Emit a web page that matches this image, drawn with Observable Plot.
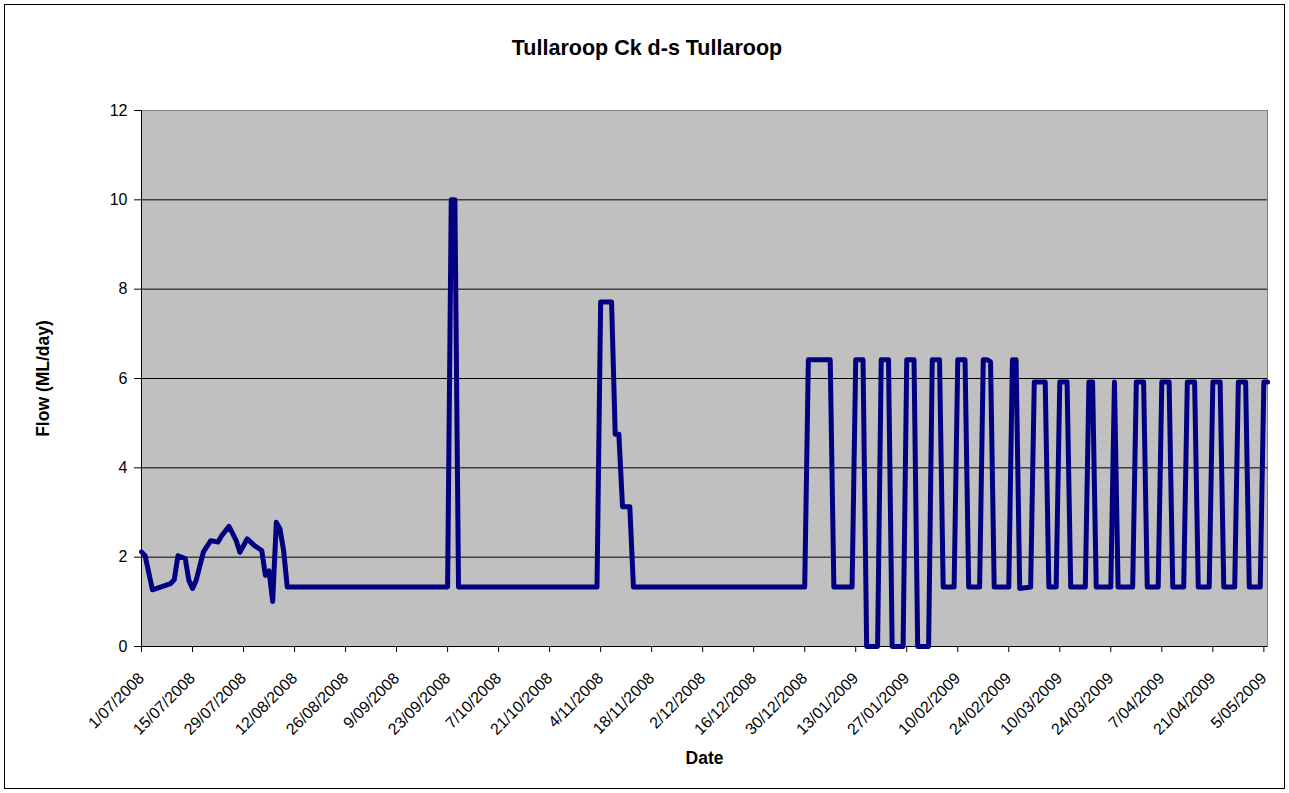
<!DOCTYPE html>
<html>
<head>
<meta charset="utf-8">
<script src="https://cdn.jsdelivr.net/npm/d3@7"></script>
<script src="https://cdn.jsdelivr.net/npm/@observablehq/plot@0.6"></script>
<style>
  html, body { margin: 0; padding: 0; background: #ffffff; }
  #wrap { position: relative; width: 1289px; height: 793px; overflow: hidden; }
  #wrap svg { position: absolute; left: 0; top: 0; max-width: none !important; }
  #border { position: absolute; left: 4px; top: 4px; width: 1281px; height: 785px;
            border: 1.5px solid #000; box-sizing: border-box; pointer-events: none; }
</style>
</head>
<body>
<div id="wrap"><div id="border"></div></div>
<script>
const title = "Tullaroop Ck d-s Tullaroop";
const xLabel = "Date";
const yLabel = "Flow (ML/day)";

const dates = [
  "2008-07-01","2008-07-02","2008-07-04","2008-07-09","2008-07-10","2008-07-11","2008-07-13",
  "2008-07-14","2008-07-15","2008-07-16","2008-07-18","2008-07-20","2008-07-22","2008-07-23",
  "2008-07-25","2008-07-27","2008-07-28","2008-07-30","2008-08-01","2008-08-03","2008-08-04",
  "2008-08-05","2008-08-06","2008-08-07","2008-08-08","2008-08-09","2008-08-10",
  "2008-09-23","2008-09-24","2008-09-25","2008-09-26",
  "2008-11-03","2008-11-04","2008-11-07","2008-11-08","2008-11-09","2008-11-10","2008-11-12","2008-11-13",
  "2008-12-30","2008-12-31","2009-01-06","2009-01-07","2009-01-12","2009-01-13","2009-01-15",
  "2009-01-16","2009-01-19","2009-01-20","2009-01-22","2009-01-23","2009-01-26","2009-01-27",
  "2009-01-29","2009-01-30","2009-02-02","2009-02-03","2009-02-05","2009-02-06","2009-02-09",
  "2009-02-10","2009-02-12","2009-02-13","2009-02-16","2009-02-17","2009-02-18","2009-02-19",
  "2009-02-20","2009-02-24","2009-02-25","2009-02-26","2009-02-27","2009-03-02","2009-03-03",
  "2009-03-06","2009-03-07","2009-03-09","2009-03-10","2009-03-12","2009-03-13","2009-03-17",
  "2009-03-18","2009-03-19","2009-03-20","2009-03-24","2009-03-25","2009-03-26","2009-03-30",
  "2009-03-31","2009-04-02","2009-04-03","2009-04-06","2009-04-07","2009-04-09","2009-04-10",
  "2009-04-13","2009-04-14","2009-04-16","2009-04-17","2009-04-20","2009-04-21","2009-04-23",
  "2009-04-24","2009-04-27","2009-04-28","2009-04-30","2009-05-01","2009-05-04","2009-05-05",
  "2009-05-06"
];
const flows = [
  2.12, 2.03, 1.27, 1.41, 1.50, 2.03, 1.97,
  1.48, 1.30, 1.48, 2.12, 2.37, 2.34, 2.48,
  2.69, 2.37, 2.11, 2.41, 2.26, 2.15, 1.59,
  1.69, 1.01, 2.78, 2.63, 2.15, 1.33,
  1.33, 10.0, 10.0, 1.33,
  1.33, 7.71, 7.71, 4.75, 4.75, 3.13, 3.13, 1.33,
  1.33, 6.42, 6.42, 1.33, 1.33, 6.42, 6.42,
  0, 0, 6.42, 6.42, 0, 0, 6.42,
  6.42, 0, 0, 6.42, 6.42, 1.33, 1.33,
  6.42, 6.42, 1.33, 1.33, 6.42, 6.42, 6.37,
  1.33, 1.33, 6.42, 6.42, 1.30, 1.33, 5.92,
  5.92, 1.33, 1.33, 5.92, 5.92, 1.33, 1.33,
  5.92, 5.92, 1.33, 1.33, 5.92, 1.33, 1.33,
  5.92, 5.92, 1.33, 1.33, 5.92, 5.92, 1.33,
  1.33, 5.92, 5.92, 1.33, 1.33, 5.92, 5.92,
  1.33, 1.33, 5.92, 5.92, 1.33, 1.33, 5.92,
  5.92
];
const tickLabels = [
  "1/07/2008","15/07/2008","29/07/2008","12/08/2008","26/08/2008","9/09/2008","23/09/2008",
  "7/10/2008","21/10/2008","4/11/2008","18/11/2008","2/12/2008","16/12/2008","30/12/2008",
  "13/01/2009","27/01/2009","10/02/2009","24/02/2009","10/03/2009","24/03/2009","7/04/2009",
  "21/04/2009","5/05/2009"
];
const yTicks = [0, 2, 4, 6, 8, 10, 12];
const xDomain = ["2008-07-01", "2009-05-06"];

const toDate = s => new Date(s + "T00:00:00Z");
const parseLabel = s => { const [d, m, y] = s.split("/").map(Number); return new Date(Date.UTC(y, m - 1, d)); };
const data = dates.map((d, i) => ({date: toDate(d), flow: flows[i]}));
const ticks = tickLabels.map(s => ({date: parseLabel(s), label: s}));
const x0 = toDate(xDomain[0]);

const font = "Arial, 'Liberation Sans', Helvetica, sans-serif";

const chart = Plot.plot({
  width: 1289,
  height: 793,
  marginLeft: 141,
  marginRight: 22,
  marginTop: 110,
  marginBottom: 147,
  style: {fontFamily: font, background: "transparent", color: "#000", overflow: "visible"},
  x: {type: "utc", domain: xDomain.map(toDate)},
  y: {domain: [0, 12]},
  marks: [
    Plot.frame({fill: "#c0c0c0", stroke: "#808080"}),
    Plot.ruleY(yTicks.filter(v => v > 0 && v < 12), {stroke: "#000", strokeWidth: 1}),
    Plot.axisY({ticks: yTicks, tickSize: 7, tickPadding: 7, fontSize: 16, label: null}),
    Plot.axisX({ticks: ticks.map(t => t.date), tickSize: 6, tickFormat: () => "", label: null}),
    Plot.text(ticks, {x: "date", text: "label", frameAnchor: "bottom", rotate: -45,
                      textAnchor: "end", lineAnchor: "middle", dy: 29, fontSize: 16}),
    Plot.ruleX([x0], {stroke: "#000", strokeWidth: 1}),
    Plot.ruleY([0], {stroke: "#000", strokeWidth: 1}),
    Plot.lineY(data, {x: "date", y: "flow", stroke: "#000080", strokeWidth: 5,
                      strokeLinejoin: "round", strokeLinecap: "round"}),
    Plot.text([title], {frameAnchor: "top", textAnchor: "middle", lineAnchor: "bottom",
                        dx: -57.5, dy: -56, fontSize: 21.5, fontWeight: "bold"}),
    Plot.text([xLabel], {frameAnchor: "bottom", textAnchor: "middle", lineAnchor: "bottom",
                         dy: 117, fontSize: 17.5, fontWeight: "bold"}),
    Plot.text([yLabel], {frameAnchor: "left", textAnchor: "middle", lineAnchor: "bottom",
                         rotate: -90, dx: -93, fontSize: 17.5, fontWeight: "bold"})
  ]
});
const wrap = document.getElementById("wrap");
wrap.insertBefore(chart, wrap.firstChild);
</script>
</body>
</html>
